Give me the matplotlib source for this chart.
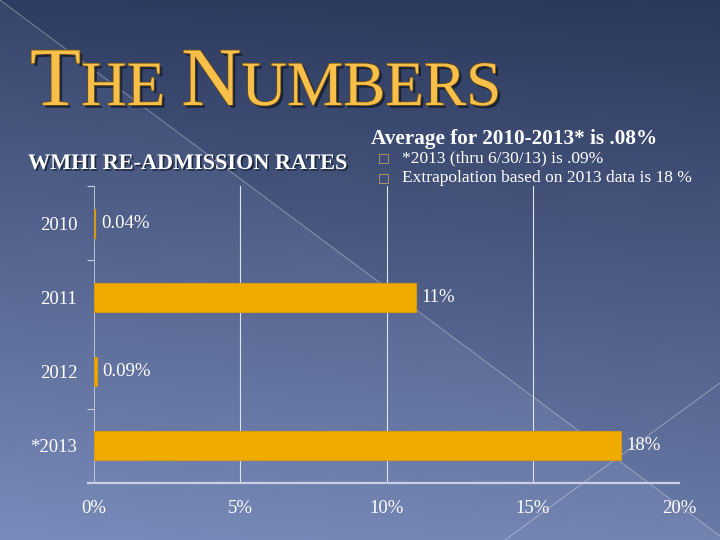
import numpy as np
import matplotlib
matplotlib.use("Agg")
import matplotlib.pyplot as plt
import matplotlib.patheffects as pe

# ---- data ----
categories = ["2010", "2011", "2012", "*2013"]
values = [0.04, 11, 0.09, 18]
value_labels = ["0.04%", "11%", "0.09%", "18%"]
xticks = [0, 5, 10, 15, 20]
xtick_labels = ["0%", "5%", "10%", "15%", "20%"]
title_parts = [("T", 60), ("HE ", 45.5), ("N", 60), ("UMBERS", 45.5)]
chart_title = "WMHI RE-ADMISSION RATES"
heading = "Average for 2010-2013* is .08%"
bullets = ["*2013 (thru 6/30/13) is .09%", "Extrapolation based on 2013 data is 18 %"]

W, H = 720, 540
fig = plt.figure(figsize=(7.2, 5.4), dpi=100)

# ---- background ----
bg = fig.add_axes([0, 0, 1, 1])
bg.set_xlim(0, W)
bg.set_ylim(H, 0)
bg.axis("off")
yy, xx = np.mgrid[0:H, 0:W]
t = yy / H
top = np.array([46, 60, 97]) / 255
bot = np.array([112, 130, 178]) / 255
img = top[None, None, :] * (1 - t[..., None]) + bot[None, None, :] * t[..., None]
img = img * (1 - 0.06 * (xx / W)[..., None])
below = yy > (xx * 0.745)
img = img + below[..., None] * 0.035
img = np.clip(img, 0, 1)
bg.imshow(img, extent=[0, W, H, 0], aspect="auto", zorder=0)
bg.plot([0, 720], [0, 536], color=(1, 1, 1, 0.35), lw=0.7, zorder=1)
bg.plot([505, 720], [540, 383], color=(1, 1, 1, 0.35), lw=0.7, zorder=1)

# ---- title ----
serif = "Liberation Serif"
fig.canvas.draw()
renderer = fig.canvas.get_renderer()
x = 30
title_fx = [pe.withSimplePatchShadow(offset=(2, -2), shadow_rgbFace="#101828", alpha=0.75),
            pe.withStroke(linewidth=1.1, foreground="#6e5014")]
for txt, size in title_parts:
    tt = bg.text(x, 105, txt, fontsize=size, family=serif, color="#f8c04a",
                 va="baseline", ha="left", zorder=5)
    tt.set_path_effects(title_fx)
    bb = tt.get_window_extent(renderer=renderer)
    x += bb.width

sh = [pe.withSimplePatchShadow(offset=(1.2, -1.2), shadow_rgbFace="#111a2c", alpha=0.8)]
t1 = bg.text(28, 169, chart_title, fontsize=16, family=serif, weight="bold",
             color="white", va="baseline", ha="left", zorder=5)
t1.set_path_effects(sh)
bg.text(371, 144, heading, fontsize=15.3, family=serif, weight="bold",
        color="white", va="baseline", ha="left", zorder=5)
for i, b in enumerate(bullets):
    yb = 158 + i * 20
    bg.text(378, yb, "\u25a1", fontsize=9, family="DejaVu Sans", color="#c8a96a",
            va="center", ha="left", zorder=5)
    bg.text(402, yb, b, fontsize=12.5, family=serif, color="white",
            va="center", ha="left", zorder=5)

# ---- chart ----
ax = fig.add_axes([94 / W, 1 - 483 / H, (679 - 94) / W, (483 - 186) / H])
ax.patch.set_alpha(0)
ypos = np.arange(len(categories))
ax.barh(ypos, values, height=0.39, color="#f0ab00", edgecolor="#d49a12", linewidth=0.8, zorder=3)
ax.set_xlim(0, 20)
ax.set_ylim(len(categories) - 0.5, -0.5)
ax.set_xticks(xticks)
ax.set_xticklabels(xtick_labels, family=serif, fontsize=13.5, color="white")
ax.set_yticks(ypos)
ax.set_yticklabels(categories, family=serif, fontsize=13.5, color="white")
ax.set_yticks([-0.5, 0.5, 2.5], minor=True)
ax.tick_params(axis="y", which="major", length=0, pad=12)
ax.tick_params(axis="y", which="minor", length=5, color="#c8cfe0", width=0.8)
ax.tick_params(axis="x", which="major", length=0, pad=12)
for xv in xticks[1:-1]:
    ax.axvline(xv, color="#dfe3ee", lw=0.8, zorder=1)
for s in ["top", "right"]:
    ax.spines[s].set_visible(False)
ax.spines["left"].set_color("#c8cfe0")
ax.spines["left"].set_linewidth(0.6)
ax.spines["bottom"].set_visible(False)
ax.plot([-0.2, 20], [3.5, 3.5], color="#c8d0e4", lw=1.6, clip_on=False, zorder=4)
for yv, v, lab in zip(ypos, values, value_labels):
    ax.text(v + 0.2, yv, lab, family=serif, fontsize=13.5, color="white",
            va="center", ha="left", zorder=5)

fig.savefig("out.png", dpi=100)
